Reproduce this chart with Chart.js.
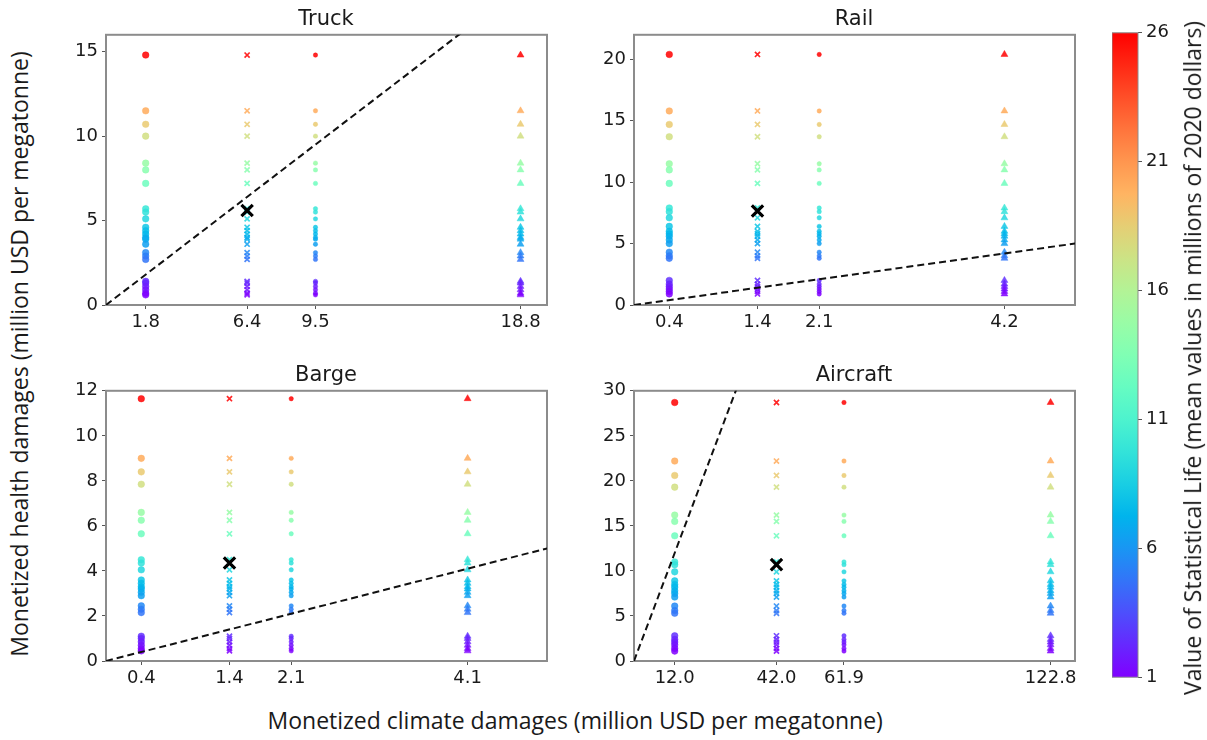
<!DOCTYPE html>
<html>
<head>
<meta charset="utf-8">
<script src="https://cdn.jsdelivr.net/npm/chart.js@4.4.0/dist/chart.umd.min.js"></script>
<style>
  body { margin: 0; background: #fff; width: 1207px; height: 740px; position: relative; overflow: hidden; }
  canvas { position: absolute; }
  .title { position: absolute; font-family: "DejaVu Sans"; font-size: 21px; color: #1a1a1a; text-align: center; width: 200px; line-height: 26px; }
  .axlbl { position: absolute; font-family: "Open Sans"; font-size: 23px; color: #1a1a1a; white-space: nowrap; line-height: 28px; }
</style>
</head>
<body>
<canvas id="truck"></canvas>
<canvas id="rail"></canvas>
<canvas id="barge"></canvas>
<canvas id="aircraft"></canvas>
<canvas id="cbar"></canvas>

<div class="title" style="left:226px; top:5px;">Truck</div>
<div class="title" style="left:754px; top:5px;">Rail</div>
<div class="title" style="left:226px; top:361px;">Barge</div>
<div class="title" style="left:754px; top:361px;">Aircraft</div>

<div class="axlbl" id="ylab">Monetized health damages (million USD per megatonne)</div>
<div class="axlbl" id="xlab">Monetized climate damages (million USD per megatonne)</div>
<div class="axlbl" id="clab">Value of Statistical Life (mean values in millions of 2020 dollars)</div>

<script>
// VSL for each point (colour), same ordering as the health arrays
const vsl = [26, 20.1, 18.7, 17.5, 14.7, 14.0, 12.6, 10.0, 9.7, 9.0, 8.1, 7.7, 7.4, 7.1, 6.8, 6.4, 5.5, 5.1, 4.8, 2.5, 2.2, 1.9, 1.6, 1.3, 1.0];

const truckClimate = [1.8, 6.4, 9.5, 18.8];
const truckHealth = [14.8, 11.5, 10.7, 10.0, 8.4, 8.0, 7.2, 5.7, 5.5, 5.1, 4.6, 4.4, 4.2, 4.0, 3.9, 3.6, 3.1, 2.9, 2.7, 1.4, 1.3, 1.1, 0.9, 0.7, 0.6];
const truckMean = [6.4, 5.6];
const truckYTicks = [0, 5, 10, 15];

const railClimate = [0.4, 1.4, 2.1, 4.2];
const railHealth = [20.4, 15.8, 14.7, 13.7, 11.5, 11.0, 9.9, 7.9, 7.6, 7.1, 6.4, 6.0, 5.8, 5.6, 5.3, 5.0, 4.3, 4.0, 3.8, 2.0, 1.7, 1.5, 1.3, 1.1, 0.9];
const railMean = [1.4, 7.65];
const railYTicks = [0, 5, 10, 15, 20];

const bargeClimate = [0.4, 1.4, 2.1, 4.1];
const bargeHealth = [11.65, 9.0, 8.4, 7.85, 6.6, 6.25, 5.65, 4.5, 4.35, 4.05, 3.6, 3.45, 3.3, 3.2, 3.05, 2.9, 2.45, 2.3, 2.15, 1.1, 1.0, 0.85, 0.7, 0.55, 0.45];
const bargeMean = [1.4, 4.35];
const bargeYTicks = [0, 2, 4, 6, 8, 10, 12];

const aircraftClimate = [12.0, 42.0, 61.9, 122.8];
const aircraftHealth = [28.7, 22.2, 20.6, 19.3, 16.2, 15.5, 13.9, 11.0, 10.7, 9.9, 8.9, 8.5, 8.2, 7.8, 7.5, 7.1, 6.1, 5.6, 5.3, 2.8, 2.4, 2.1, 1.8, 1.4, 1.1];
const aircraftMean = [42.0, 10.7];
const aircraftYTicks = [0, 5, 10, 15, 20, 25, 30];

const cbarTicks = [1, 6, 11, 16, 21, 26];

const markerStyles = ['circle', 'crossRot', 'circle', 'triangle'];
const markerSizes = [3.3, 3.6, 2.2, 4];

const PADL = 60, PADT = 12, PADR = 12, PADB = 40;
const tickFont = { family: 'DejaVu Sans', size: 18 };

// matplotlib "rainbow"
function rainbow(v, alpha) {
  const t = Math.max(0, Math.min(1, (v - 1) / 25));
  const r = Math.min(1, Math.abs(2 * t - 0.5));
  const g = Math.sin(Math.PI * t);
  const b = Math.cos(Math.PI * t / 2);
  return `rgba(${Math.round(r * 255)},${Math.round(g * 255)},${Math.round(b * 255)},${alpha})`;
}

const framePlugin = {
  id: 'frame',
  beforeDatasetsDraw(chart) {
    const { ctx, chartArea: a } = chart;
    ctx.save();
    ctx.strokeStyle = '#8c8c8c';
    ctx.lineWidth = 2;
    ctx.strokeRect(a.left, a.top, a.right - a.left, a.bottom - a.top);
    ctx.restore();
  }
};

function place(cv, left, top, w, h) {
  cv.width = w; cv.height = h;
  cv.style.left = left + 'px'; cv.style.top = top + 'px';
  cv.style.width = w + 'px'; cv.style.height = h + 'px';
}

function panel(id, box, climate, health, mean, xMax, yMax, yTicks) {
  const cv = document.getElementById(id);
  const W = box[2] - box[0], H = box[3] - box[1];
  place(cv, box[0] - PADL, box[1] - PADT, W + PADL + PADR, H + PADT + PADB);

  const colours = vsl.map(v => rainbow(v, 0.85));
  const cols = climate.map((c, i) => ({
    data: health.map(h => ({ x: c, y: h })),
    pointStyle: markerStyles[i],
    pointRadius: markerSizes[i],
    pointBackgroundColor: colours,
    pointBorderColor: colours,
    pointBorderWidth: i === 1 ? 1.7 : 0.5
  }));
  const lim = Math.max(xMax, yMax);

  new Chart(cv, {
    type: 'scatter',
    data: {
      datasets: [
        { data: [{ x: mean[0], y: mean[1] }], pointStyle: 'crossRot', pointRadius: 8,
          pointBorderColor: '#000', pointBackgroundColor: '#000', pointBorderWidth: 3.2 },
        { data: [{ x: 0, y: 0 }, { x: lim, y: lim }], showLine: true, borderColor: '#111',
          borderWidth: 2, borderDash: [7, 4], pointRadius: 0 },
        ...cols
      ]
    },
    options: {
      responsive: false,
      animation: false,
      devicePixelRatio: 1,
      events: [],
      layout: { padding: { top: PADT, right: PADR, left: 0, bottom: 0 } },
      plugins: { legend: { display: false }, tooltip: { enabled: false } },
      scales: {
        x: {
          type: 'linear', min: 0, max: xMax,
          afterBuildTicks: s => { s.ticks = climate.map(v => ({ value: v })); },
          afterFit: s => { s.height = PADB; },
          ticks: { callback: v => v.toFixed(1), font: tickFont, color: '#1a1a1a', padding: 3, maxRotation: 0, autoSkip: false },
          grid: { drawOnChartArea: false, tickLength: 4, color: '#555' },
          border: { display: false }
        },
        y: {
          type: 'linear', min: 0, max: yMax,
          afterBuildTicks: s => { s.ticks = yTicks.map(v => ({ value: v })); },
          afterFit: s => { s.width = PADL; },
          ticks: { callback: v => String(v), font: tickFont, color: '#1a1a1a', padding: 4, autoSkip: false },
          grid: { drawOnChartArea: false, tickLength: 4, color: '#555' },
          border: { display: false }
        }
      }
    },
    plugins: [framePlugin]
  });
}

panel('truck', [106, 32, 547, 305], truckClimate, truckHealth, truckMean, 20, 16, truckYTicks);
panel('rail', [634, 32, 1075, 305], railClimate, railHealth, railMean, 5, 22, railYTicks);
panel('barge', [106, 388, 547, 661], bargeClimate, bargeHealth, bargeMean, 5, 12, bargeYTicks);
panel('aircraft', [634, 388, 1075, 661], aircraftClimate, aircraftHealth, aircraftMean, 130, 30, aircraftYTicks);

// colour bar
const gradientPlugin = {
  id: 'gradient',
  beforeDatasetsDraw(chart) {
    const { ctx, chartArea: a } = chart;
    const g = ctx.createLinearGradient(0, a.bottom, 0, a.top);
    for (let k = 0; k <= 20; k++) g.addColorStop(k / 20, rainbow(1 + 25 * k / 20, 1));
    ctx.save();
    ctx.fillStyle = g;
    ctx.fillRect(a.left, a.top, a.right - a.left, a.bottom - a.top);
    ctx.strokeStyle = '#8c8c8c';
    ctx.lineWidth = 1;
    ctx.strokeRect(a.left, a.top, a.right - a.left, a.bottom - a.top);
    ctx.restore();
  }
};
const cbCanvas = document.getElementById('cbar');
place(cbCanvas, 1112, 18, 26 + 60, 650 + 24);
new Chart(cbCanvas, {
  type: 'scatter',
  data: { datasets: [] },
  options: {
    responsive: false,
    animation: false,
    devicePixelRatio: 1,
    events: [],
    layout: { padding: { top: 12, bottom: 12, left: 0, right: 0 } },
    plugins: { legend: { display: false }, tooltip: { enabled: false } },
    scales: {
      x: { display: false, min: 0, max: 1 },
      y: {
        position: 'right', min: 1, max: 26,
        afterBuildTicks: s => { s.ticks = cbarTicks.map(v => ({ value: v })); },
        afterFit: s => { s.width = 60; },
        ticks: { font: tickFont, color: '#1a1a1a', padding: 4, autoSkip: false },
        grid: { drawOnChartArea: false, tickLength: 4, color: '#555' },
        border: { display: false }
      }
    }
  },
  plugins: [gradientPlugin]
});

// axis labels
function centre(el, cx, cy, rot) {
  const w = el.offsetWidth, h = el.offsetHeight;
  el.style.left = (cx - w / 2) + 'px';
  el.style.top = (cy - h / 2) + 'px';
  if (rot) el.style.transform = 'rotate(-90deg)';
}
centre(document.getElementById('ylab'), 18, 354, true);
centre(document.getElementById('xlab'), 575, 720, false);
centre(document.getElementById('clab'), 1192, 358, true);
</script>
</body>
</html>
